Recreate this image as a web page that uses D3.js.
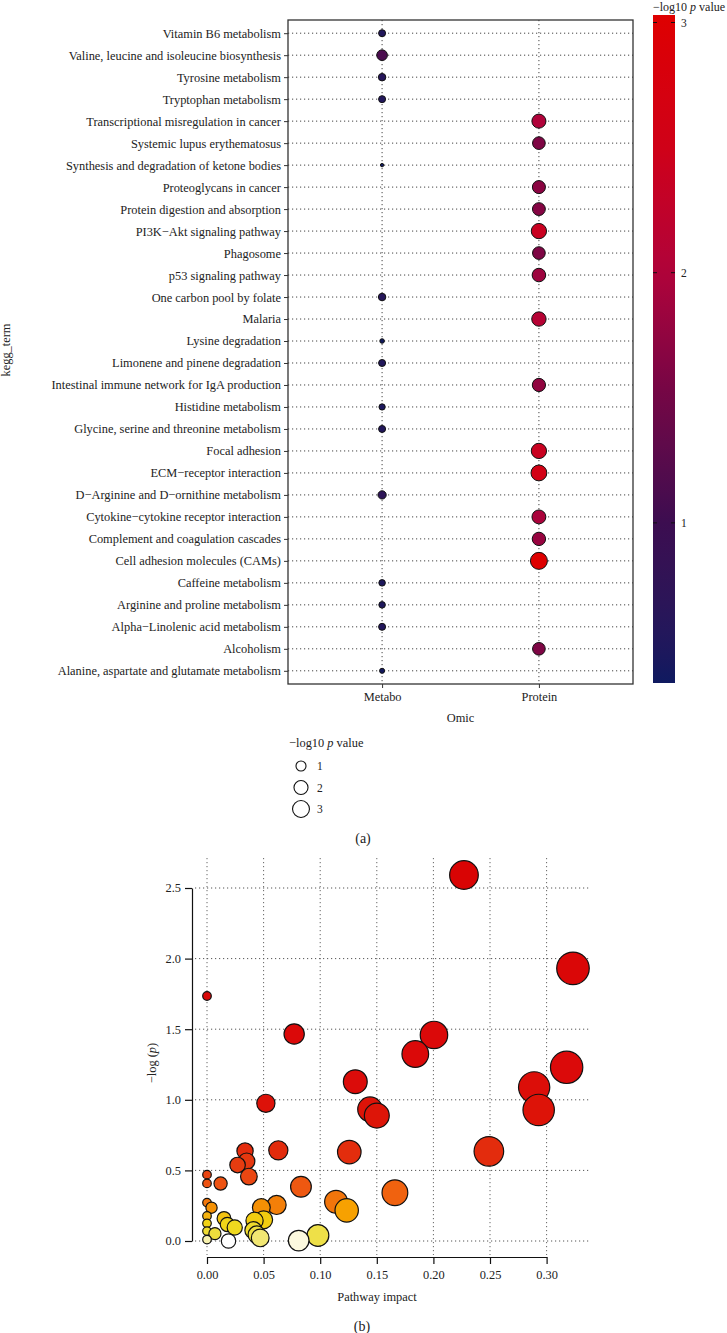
<!DOCTYPE html>
<html><head><meta charset="utf-8">
<script src="https://cdn.jsdelivr.net/npm/d3@7"></script>
<style>
body{margin:0;background:#fff}
svg{display:block}
text{font-family:"Liberation Serif","Times New Roman",serif;fill:#222}
</style>
</head><body>
<svg id="c" width="727" height="1333"></svg>
<script>
// ---------- Panel (a) data ----------
const keggTerms = [
  "Vitamin B6 metabolism",
  "Valine, leucine and isoleucine biosynthesis",
  "Tyrosine metabolism",
  "Tryptophan metabolism",
  "Transcriptional misregulation in cancer",
  "Systemic lupus erythematosus",
  "Synthesis and degradation of ketone bodies",
  "Proteoglycans in cancer",
  "Protein digestion and absorption",
  "PI3K\u2212Akt signaling pathway",
  "Phagosome",
  "p53 signaling pathway",
  "One carbon pool by folate",
  "Malaria",
  "Lysine degradation",
  "Limonene and pinene degradation",
  "Intestinal immune network for IgA production",
  "Histidine metabolism",
  "Glycine, serine and threonine metabolism",
  "Focal adhesion",
  "ECM\u2212receptor interaction",
  "D\u2212Arginine and D\u2212ornithine metabolism",
  "Cytokine\u2212cytokine receptor interaction",
  "Complement and coagulation cascades",
  "Cell adhesion molecules (CAMs)",
  "Caffeine metabolism",
  "Arginine and proline metabolism",
  "Alpha\u2212Linolenic acid metabolism",
  "Alcoholism",
  "Alanine, aspartate and glutamate metabolism"
];
const keggOmic = [
  "Metabo","Metabo","Metabo","Metabo","Protein","Protein","Metabo","Protein","Protein","Protein",
  "Protein","Protein","Metabo","Protein","Metabo","Metabo","Protein","Metabo","Metabo","Protein",
  "Protein","Metabo","Protein","Protein","Protein","Metabo","Metabo","Metabo","Protein","Metabo"
];
const keggNegLogP = [
  0.55, 1.12, 0.60, 0.55, 2.00, 1.60, 0.36, 1.70, 1.65, 2.40,
  1.60, 1.85, 0.60, 2.10, 0.38, 0.55, 1.75, 0.48, 0.55, 2.40,
  2.60, 0.70, 1.95, 1.80, 3.03, 0.50, 0.50, 0.55, 1.60, 0.40
];
const omicCategories = ["Metabo","Protein"];
const colorbarTicks = [1,2,3];
const sizeLegendValues = [1,2,3];
const gradientStops = [0.36, 1.0, 1.5, 2.0, 2.5, 3.03];
const gradientColors = ["#0f1a60","#3c0d50","#720646","#b0033a","#cf0118","#de0000"];

// ---------- Panel (b) data ----------
const pathImpact = [
  0.000, 0.077, 0.131, 0.184, 0.2005, 0.227, 0.3233, 0.3177, 0.289, 0.293,
  0.249, 0.166, 0.052, 0.144, 0.150, 0.0336, 0.063, 0.1257, 0.035, 0.027,
  0.037, 0.000, 0.000, 0.012, 0.083, 0.114, 0.1234, 0.0615, 0.048, 0.000,
  0.004, 0.000, 0.000, 0.000, 0.000, 0.007, 0.015, 0.018, 0.0245, 0.019,
  0.042, 0.050, 0.041, 0.044, 0.047, 0.081, 0.098
];
const pathNegLogP = [
  1.735, 1.466, 1.128, 1.324, 1.459, 2.592, 1.931, 1.230, 1.088, 0.928,
  0.635, 0.342, 0.975, 0.933, 0.888, 0.637, 0.642, 0.630, 0.565, 0.538,
  0.456, 0.470, 0.408, 0.407, 0.384, 0.278, 0.217, 0.255, 0.237, 0.272,
  0.236, 0.177, 0.125, 0.070, 0.010, 0.052, 0.160, 0.117, 0.096, 0.000,
  0.144, 0.150, 0.076, 0.045, 0.022, 0.003, 0.039
];
const impactTicks = [0,0.05,0.10,0.15,0.20,0.25,0.30];
const logPTicks = [0,0.5,1.0,1.5,2.0,2.5];
const heatStops = [0, 0.005, 0.02, 0.04, 0.10, 0.15, 0.18, 0.22, 0.26, 0.35, 0.45, 0.55, 0.65, 0.9, 1.2, 2.6];
const heatColors = ["#ffffff","#faf5c8","#f2e878","#eee045","#efd81c","#f2cc10","#f5b010","#f7a000",
                    "#f27a0a","#f06010","#ea4812","#e63a10","#e22a0c","#dd1408","#db0a0a","#d90404"];

const svg = d3.select("#c");
const dotted = "1.2,2.8";
const FS = "12.4px";

// ================= Panel (a) =================
const A = {l:288, r:633, t:20, b:684};
const xA = d3.scalePoint().domain(omicCategories).range([A.l, A.r]).padding(0.6);
const yA = d3.scalePoint().domain(keggTerms).range([A.t, A.b]).padding(0.6);
const vExt = d3.extent(keggNegLogP);
const colA = d3.scaleLinear().domain(gradientStops).range(gradientColors).interpolate(d3.interpolateLab);
const sizeA = d3.scaleSqrt().domain([0, vExt[1]-vExt[0]]).range([1.7, 8.5]);
const rA = v => sizeA(Math.max(0, v - vExt[0]));

const gA = svg.append("g");
gA.selectAll("line.hg").data(keggTerms).join("line")
  .attr("x1", A.l).attr("x2", A.r).attr("y1", d=>yA(d)).attr("y2", d=>yA(d))
  .attr("stroke","#444").attr("stroke-width",1).attr("stroke-dasharray",dotted);
gA.selectAll("line.vg").data(omicCategories).join("line")
  .attr("x1", d=>xA(d)).attr("x2", d=>xA(d)).attr("y1", A.t).attr("y2", A.b)
  .attr("stroke","#444").attr("stroke-width",1).attr("stroke-dasharray",dotted);
const ptsA = keggTerms.map((t,i)=>({t, o:keggOmic[i], v:keggNegLogP[i]}));
gA.selectAll("circle.p").data(ptsA).join("circle")
  .attr("cx", d=>xA(d.o)).attr("cy", d=>yA(d.t)).attr("r", d=>rA(d.v))
  .attr("fill", d=>colA(d.v)).attr("stroke","#111").attr("stroke-width",1);
gA.append("rect").attr("x",A.l).attr("y",A.t).attr("width",A.r-A.l).attr("height",A.b-A.t)
  .attr("fill","none").attr("stroke","#333").attr("stroke-width",1.3);
const axL = gA.append("g").attr("transform",`translate(${A.l},0)`)
  .call(d3.axisLeft(yA).tickSize(4).tickPadding(3));
axL.select(".domain").remove();
axL.selectAll("line").attr("stroke","#333");
axL.selectAll("text").attr("font-size",FS).attr("fill","#222").style("font-family","Liberation Serif");
const axB = gA.append("g").attr("transform",`translate(0,${A.b})`)
  .call(d3.axisBottom(xA).tickSize(4).tickPadding(4));
axB.select(".domain").remove();
axB.selectAll("line").attr("stroke","#333");
axB.selectAll("text").attr("font-size",FS).attr("fill","#222").style("font-family","Liberation Serif");
gA.append("text").attr("x",(A.l+A.r)/2).attr("y",722).attr("text-anchor","middle")
  .attr("font-size",FS).text("Omic");
gA.append("text").attr("transform","translate(10,350) rotate(-90)").attr("text-anchor","middle")
  .attr("font-size",FS).text("kegg_term");

// colorbar
const cb = {x:653, w:22};
const cbY = d3.scaleLinear().domain(vExt).range([683, 15]);
const defs = svg.append("defs");
const grad = defs.append("linearGradient").attr("id","cbg").attr("x1",0).attr("y1",1).attr("x2",0).attr("y2",0);
d3.range(0,1.0001,0.04).forEach(f=>{
  const v = vExt[0] + f*(vExt[1]-vExt[0]);
  grad.append("stop").attr("offset",f).attr("stop-color",colA(v));
});
svg.append("rect").attr("x",cb.x).attr("y",cbY(vExt[1])).attr("width",cb.w)
  .attr("height",cbY(vExt[0])-cbY(vExt[1])).attr("fill","url(#cbg)");
colorbarTicks.forEach(t=>{
  svg.append("line").attr("x1",cb.x).attr("x2",cb.x+4).attr("y1",cbY(t)).attr("y2",cbY(t)).attr("stroke","#111");
  svg.append("line").attr("x1",cb.x+cb.w-4).attr("x2",cb.x+cb.w).attr("y1",cbY(t)).attr("y2",cbY(t)).attr("stroke","#111");
  svg.append("text").attr("x",cb.x+cb.w+6).attr("y",cbY(t)+4).attr("font-size","11.5px").text(t);
});
const cbt = svg.append("text").attr("x",653).attr("y",11).attr("font-size","12px");
cbt.append("tspan").text("\u2212log10 ");
cbt.append("tspan").attr("font-style","italic").text("p");
cbt.append("tspan").text(" value");

// size legend
const lt = svg.append("text").attr("x",289).attr("y",747).attr("font-size",FS);
lt.append("tspan").text("\u2212log10 ");
lt.append("tspan").attr("font-style","italic").text("p");
lt.append("tspan").text(" value");
const legY = d3.scalePoint().domain(sizeLegendValues).range([766, 809]);
sizeLegendValues.forEach(v=>{
  svg.append("circle").attr("cx",301).attr("cy",legY(v)).attr("r",rA(v))
    .attr("fill","#fff").attr("stroke","#111").attr("stroke-width",1.1);
  svg.append("text").attr("x",317).attr("y",legY(v)+4).attr("font-size","11.5px").text(v);
});
svg.append("text").attr("x",363).attr("y",843).attr("text-anchor","middle").attr("font-size","14px").text("(a)");

// ================= Panel (b) =================
const xB = d3.scaleLinear().domain([0,0.30]).range([207, 546.6]);
const yB = d3.scaleLinear().domain([0,2.5]).range([1241, 888]);
const colB = d3.scaleLinear().domain(heatStops).range(heatColors).clamp(true);
const rB = d3.scaleSqrt().domain([0,0.33]).range([4.3, 16.4]);
const gB = svg.append("g");
gB.selectAll("line.vg").data(impactTicks).join("line")
  .attr("x1",d=>xB(d)).attr("x2",d=>xB(d)).attr("y1",858).attr("y2",1255)
  .attr("stroke","#666").attr("stroke-width",1).attr("stroke-dasharray",dotted);
gB.selectAll("line.hg").data(logPTicks).join("line")
  .attr("x1",195).attr("x2",590).attr("y1",d=>yB(d)).attr("y2",d=>yB(d))
  .attr("stroke","#555").attr("stroke-width",1).attr("stroke-dasharray",dotted);
const ptsB = pathImpact.map((x,i)=>({x, y:pathNegLogP[i]})).sort((a,b)=>b.y-a.y);
gB.selectAll("circle").data(ptsB).join("circle")
  .attr("cx",d=>xB(d.x)).attr("cy",d=>yB(d.y)).attr("r",d=>rB(d.x))
  .attr("fill",d=>colB(d.y)).attr("stroke","#111").attr("stroke-width",1.2);
const ayB = gB.append("g").attr("transform","translate(192,0)")
  .call(d3.axisLeft(yB).tickValues(logPTicks).tickFormat(d3.format(".1f")).tickSize(7).tickSizeOuter(0).tickPadding(4));
ayB.selectAll("path,line").attr("stroke","#111").attr("stroke-width",1.2);
ayB.selectAll("text").attr("font-size",FS).attr("fill","#222").style("font-family","Liberation Serif");
const axB2 = gB.append("g").attr("transform","translate(0,1257)")
  .call(d3.axisBottom(xB).tickValues(impactTicks).tickFormat(d3.format(".2f")).tickSize(7).tickSizeOuter(0).tickPadding(6));
axB2.selectAll("path,line").attr("stroke","#111").attr("stroke-width",1.2);
axB2.selectAll("text").attr("font-size",FS).attr("fill","#222").style("font-family","Liberation Serif");
gB.append("text").attr("x",377).attr("y",1301).attr("text-anchor","middle").attr("font-size",FS).text("Pathway impact");
const yt = gB.append("text").attr("transform","translate(156,1063) rotate(-90)").attr("text-anchor","middle").attr("font-size",FS);
yt.append("tspan").text("\u2212log (");
yt.append("tspan").attr("font-style","italic").text("p");
yt.append("tspan").text(")");
svg.append("text").attr("x",362).attr("y",1331).attr("text-anchor","middle").attr("font-size","14px").text("(b)");
</script>
</body></html>
